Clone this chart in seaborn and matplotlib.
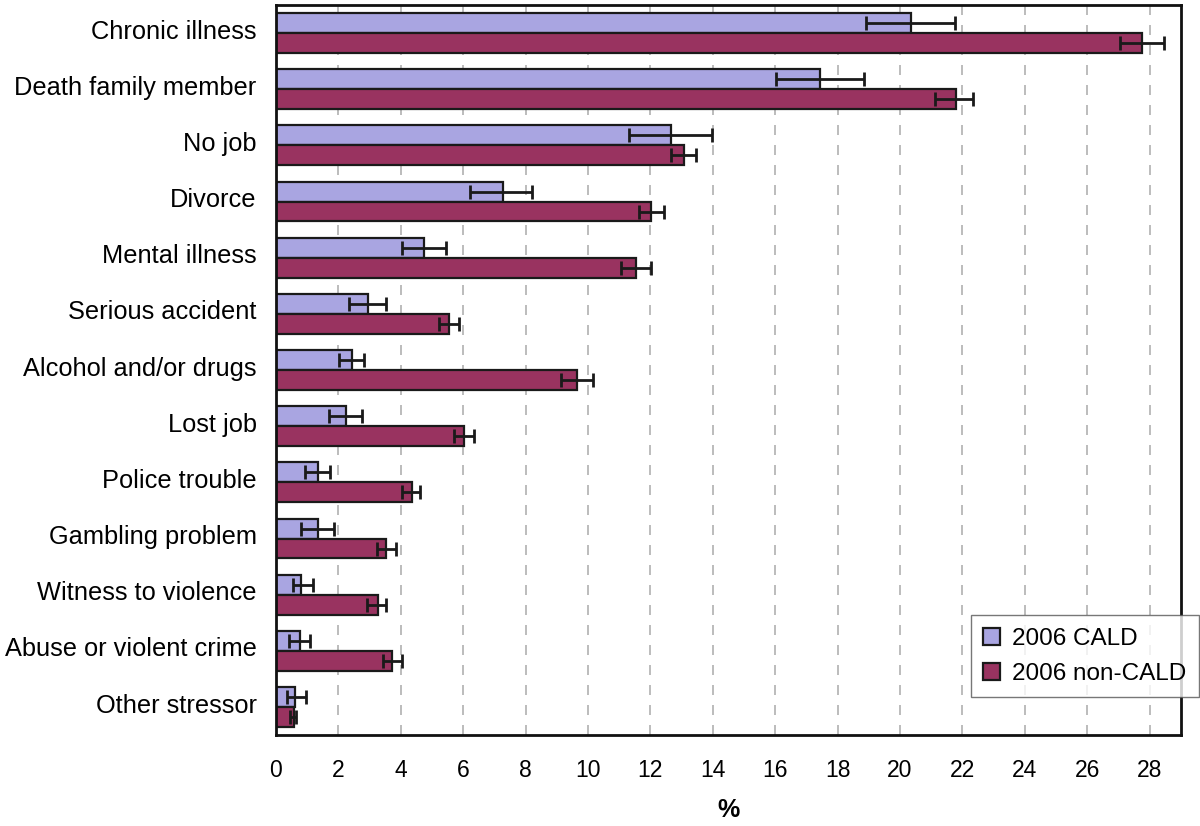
import numpy as np
import pandas as pd
import matplotlib
matplotlib.use('Agg')
import matplotlib.pyplot as plt
import matplotlib.transforms as mtransforms
import seaborn as sns

# Dados
categorias = ['Chronic illness', 'Death family member', 'No job', 'Divorce',
              'Mental illness', 'Serious accident', 'Alcohol and/or drugs',
              'Lost job', 'Police trouble', 'Gambling problem',
              'Witness to violence', 'Abuse or violent crime', 'Other stressor']
grupos = ['2006 CALD', '2006 non-CALD']

cald = [20.35, 17.43, 12.67, 7.26, 4.75, 2.94, 2.43, 2.23, 1.34, 1.34, 0.81, 0.76, 0.62]
cald_low = [18.92, 16.04, 11.31, 6.22, 4.03, 2.34, 2.02, 1.70, 0.93, 0.80, 0.53, 0.41, 0.34]
cald_high = [21.76, 18.86, 13.97, 8.22, 5.45, 3.53, 2.82, 2.75, 1.73, 1.85, 1.17, 1.09, 0.96]

non_cald = [27.77, 21.78, 13.07, 12.03, 11.54, 5.53, 9.65, 6.04, 4.37, 3.52, 3.27, 3.72, 0.57]
non_cald_low = [27.05, 21.12, 12.66, 11.65, 11.06, 5.24, 9.12, 5.70, 4.03, 3.24, 2.93, 3.44, 0.44]
non_cald_high = [28.47, 22.35, 13.45, 12.43, 12.03, 5.86, 10.16, 6.36, 4.63, 3.86, 3.54, 4.05, 0.64]

cores = ['#A9A5E1', '#993360']

df = pd.DataFrame({
    'Categoria': categorias * 2,
    'Grupo': [grupos[0]] * len(categorias) + [grupos[1]] * len(categorias),
    'Valor': cald + non_cald,
    'Low': cald_low + non_cald_low,
    'High': cald_high + non_cald_high,
})

sns.set_style('white')
plt.rcParams['font.family'] = ['Liberation Sans', 'DejaVu Sans']
plt.rcParams['text.color'] = 'black'
plt.rcParams['xtick.color'] = 'black'
plt.rcParams['ytick.color'] = 'black'
plt.rcParams['axes.labelcolor'] = 'black'

fig = plt.figure(figsize=(12, 8.26), dpi=100)
ax = fig.add_axes([0.23, 0.110, 0.754, 0.884])

sns.barplot(data=df, y='Categoria', x='Valor', hue='Grupo', orient='h',
            palette=cores, saturation=1, width=0.71, edgecolor='#1a1a1a',
            linewidth=1.6, errorbar=None, ax=ax)

# Barras de erro a partir das próprias barras
n = len(categorias)
for i, patch in enumerate(ax.patches[:2 * n]):
    yc = patch.get_y() + patch.get_height() / 2
    val = df['Valor'].iloc[i]
    lo = df['Low'].iloc[i]
    hi = df['High'].iloc[i]
    ax.errorbar(val, yc, xerr=[[val - lo], [hi - val]], fmt='none',
                ecolor='#1a1a1a', elinewidth=2, capsize=4.8, capthick=2, zorder=5)

ax.set_xlim(0, 29)
ax.set_ylim(n - 0.5, -0.5)
ax.set_xticks(np.arange(0, 29, 2))
ax.set_xticklabels([str(v) for v in range(0, 29, 2)], fontsize=16.5)
ax.set_yticks(np.arange(n))
ax.set_yticklabels(categorias, fontsize=18.3)
ax.tick_params(axis='y', length=0, pad=14)
ax.tick_params(axis='x', length=6, width=1, color='#999999', pad=11)

# rótulos um pouco acima do centro, como no original
desloc = mtransforms.ScaledTranslation(0, 4 / 100, fig.dpi_scale_trans)
for lbl in ax.get_yticklabels():
    lbl.set_transform(lbl.get_transform() + desloc)

# Marcas entre as categorias
ax.set_yticks(np.arange(n + 1) - 0.5, minor=True)
ax.tick_params(axis='y', which='minor', length=8, width=1, color='#aaaaaa')

ax.xaxis.grid(True, linestyle=(0, (6, 6)), color='#b0b0b0', linewidth=1.2)
ax.set_axisbelow(True)
for s in ax.spines.values():
    s.set_linewidth(2)
    s.set_color('#111111')

ax.set_ylabel('')
ax.set_xlabel('%', fontsize=18, fontweight='bold', labelpad=12)

leg = ax.legend(loc='lower right', bbox_to_anchor=(1.02, 0.052), fontsize=17.5,
                frameon=True, fancybox=False, edgecolor='#555555',
                borderaxespad=0, handlelength=0.7, handleheight=0.7,
                handletextpad=0.5, labelspacing=0.55, borderpad=0.5)
leg.get_frame().set_linewidth(1)

plt.savefig('out.png', dpi=100)
